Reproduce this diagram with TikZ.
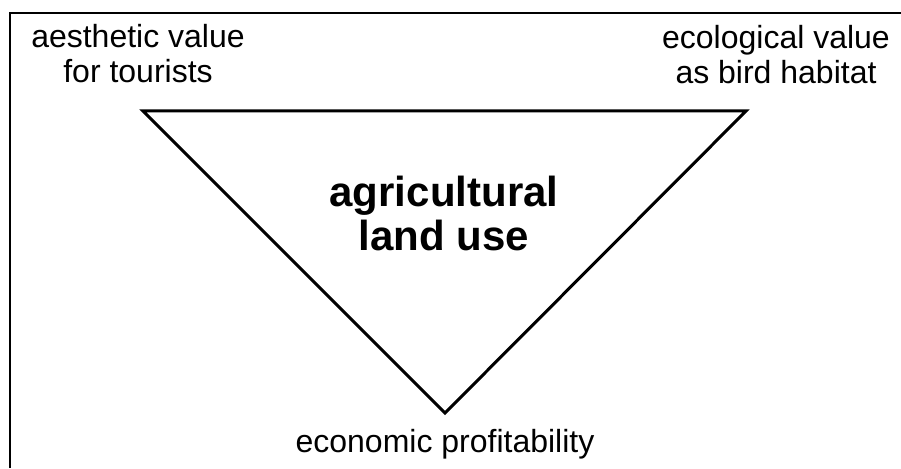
\documentclass[tikz,border=0pt]{standalone}
\usepackage{fontspec}
\setmainfont{Liberation Sans}
\begin{document}
\begin{tikzpicture}[x=1pt,y=-1pt,
  lbl/.style={inner sep=0pt, align=center, font=\fontsize{32}{35}\selectfont},
  mid/.style={inner sep=0pt, align=center, font=\fontsize{42}{44}\selectfont\bfseries}]
\useasboundingbox (0,0) rectangle (901,468);
\draw[line width=2pt] (10,468) -- (10,13) -- (901,13);
\coordinate (A) at (143,111);
\coordinate (B) at (746,111);
\coordinate (C) at (445,413);
\draw[line width=3pt, line join=miter] (A) -- (B) -- (C) -- cycle;
\node[lbl, anchor=north] (aes) at (138,24) {aesthetic value\\for tourists};
\node[lbl, anchor=north] (eco) at (776,25) {ecological value\\as bird habitat};
\node[mid, anchor=north] (agr) at (444,176) {agricultural\\land use};
\node[lbl, anchor=base] (prof) at (445,452) {economic profitability};
\end{tikzpicture}
\end{document}
